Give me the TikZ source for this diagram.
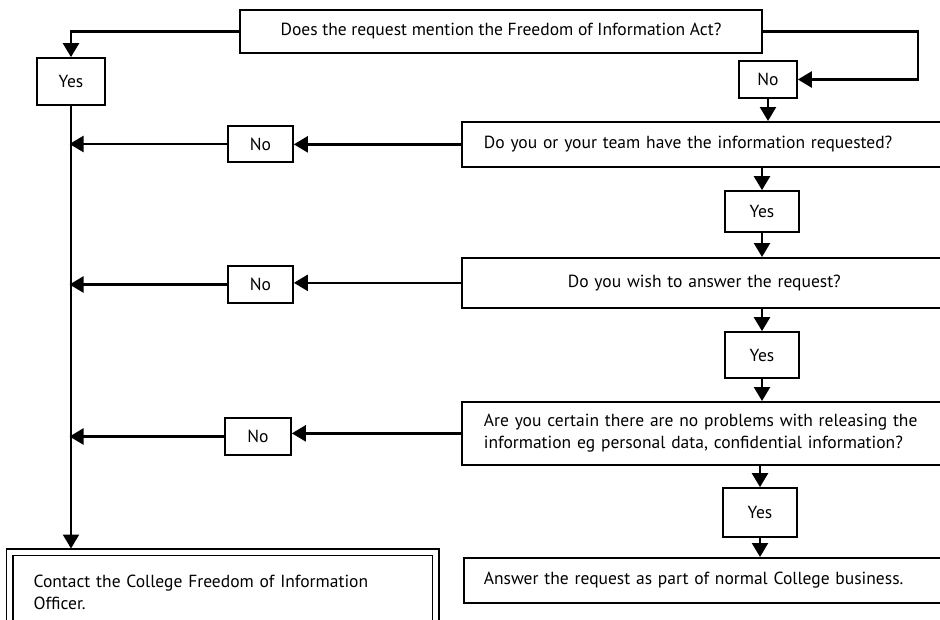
\documentclass[tikz,border=0pt]{standalone}
\usepackage{fontspec}
\setmainfont{PT Sans}
\usetikzlibrary{arrows.meta,calc}
\begin{document}
\begin{tikzpicture}[x=1pt,y=-1pt,
  box/.style={draw, line width=1.7pt, inner sep=0pt, font=\fontsize{17.5}{22}\selectfont},
  wide/.style={box, anchor=north west, inner xsep=22pt, text width=441pt, align=left},
  conn/.style={line width=2.4pt, -{Triangle[width=16pt,length=14pt]}}]
\useasboundingbox (0,0) rectangle (940,619);
\clip (0,0) rectangle (940,619);

\node[box, minimum width=522pt, minimum height=43pt] (q1) at (501,31.5) {Does the request mention the Freedom of Information Act?};
\node[box, minimum width=68pt, minimum height=47pt] (yes1) at (71,81.5) {Yes};
\node[box, minimum width=58pt, minimum height=37pt] (no1) at (768,79.5) {No};

\node[wide, minimum height=45pt] (q2) at (461,121) {Do you or your team have the information requested?};
\node[box, minimum width=65pt, minimum height=36pt] (no2) at (260.5,144) {No};
\node[box, minimum width=74pt, minimum height=41pt] (yes2) at (762,211.5) {Yes};

\node[wide, align=center, minimum height=50pt] (q3) at (461,257) {Do you wish to answer the request?};
\node[box, minimum width=65pt, minimum height=37pt] (no3) at (260.5,284.5) {No};
\node[box, minimum width=74pt, minimum height=46pt] (yes3) at (762,355) {Yes};

\node[wide, minimum height=63pt] (q4) at (461,401) {Are you certain there are no problems with releasing the\\information eg personal data, confidential information?};
\node[box, minimum width=66pt, minimum height=37pt] (no4) at (258,436.5) {No};
\node[box, minimum width=74pt, minimum height=49pt] (yes4) at (760,512.5) {Yes};

\node[wide, inner xsep=20pt, text width=443pt, minimum height=45pt] (q5) at (463,557) {Answer the request as part of normal College business.};

\node[box, line width=1.3pt, double, double distance=5.2pt, anchor=north west, inner xsep=24pt, text width=378pt, align=left, minimum height=80pt] (final) at (9,551.5) {Contact the College Freedom of Information\\Officer.};

\draw[conn] (q1.west) -| (yes1.north);
\draw[conn] (q1.east) -- ++(155,0) |- (no1.east);
\draw[conn] (no1.south) -- (no1.south |- q2.north);

\draw[conn] (q2.west) -- (q2.west -| no2.east);
\draw[conn, shorten >=-1.5pt] (no2.west) -- (no2.west -| yes1.south);
\draw[conn] (yes2.north |- q2.south) -- (yes2.north);
\draw[conn] (yes2.south) -- (yes2.south |- q3.north);

\draw[conn] (q3.west) -- (q3.west -| no3.east);
\draw[conn, shorten >=-1.5pt] (no3.west) -- (no3.west -| yes1.south);
\draw[conn] (yes3.north |- q3.south) -- (yes3.north);
\draw[conn] (yes3.south) -- (yes3.south |- q4.north);

\draw[conn] (q4.west) -- (q4.west -| no4.east);
\draw[conn, shorten >=-1.5pt] (no4.west) -- (no4.west -| yes1.south);
\draw[conn] (yes4.north |- q4.south) -- (yes4.north);
\draw[conn] (yes4.south) -- (yes4.south |- q5.north);

\draw[conn, shorten >=3pt] (yes1.south) -- (yes1.south |- final.north);
\end{tikzpicture}
\end{document}
